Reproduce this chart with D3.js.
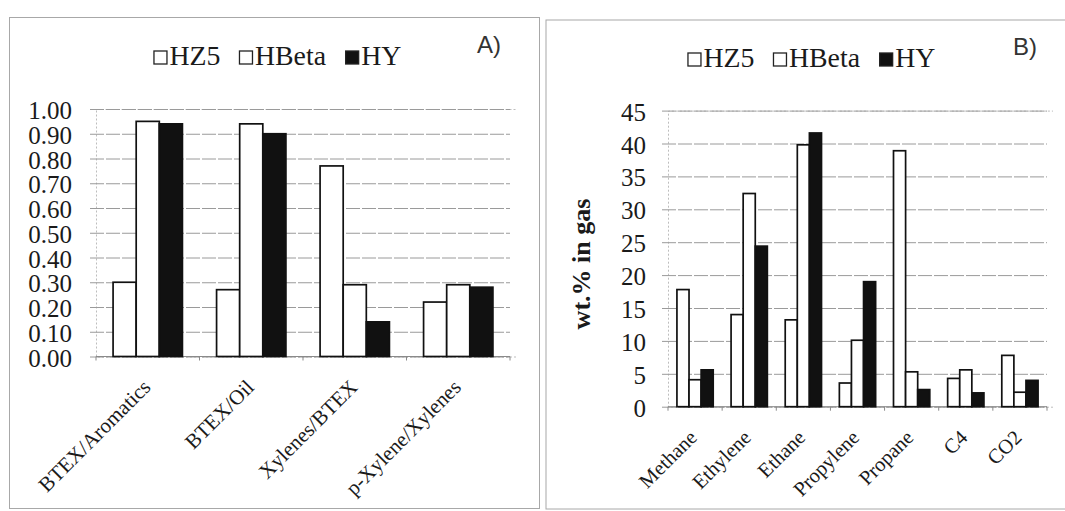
<!DOCTYPE html>
<html>
<head>
<meta charset="utf-8">
<script src="https://cdn.jsdelivr.net/npm/d3@7"></script>
<style>
  html, body { margin: 0; padding: 0; background: #fff; }
  svg { display: block; }
  svg text { font-family: "Liberation Serif", "Times New Roman", serif; }
  svg text.letter { font-family: "Liberation Sans", Arial, sans-serif; }
</style>
</head>
<body>
<svg id="chart" width="1065" height="511"></svg>
<script>
// Catalyst series shared by both panels
const seriesNames = ["HZ5", "HBeta", "HY"];
const seriesFill = ["#fff", "#fff", "#111"];

// Panel A: aromatic selectivity ratios
const ratioCategories = ["BTEX/Aromatics", "BTEX/Oil", "Xylenes/BTEX", "p-Xylene/Xylenes"];
const ratioHZ5   = [0.30, 0.27, 0.77, 0.22];
const ratioHBeta = [0.95, 0.94, 0.29, 0.29];
const ratioHY    = [0.94, 0.90, 0.14, 0.28];
const ratioTicks = [0, 0.1, 0.2, 0.3, 0.4, 0.5, 0.6, 0.7, 0.8, 0.9, 1.0];

// Panel B: gas composition, wt.%
const gasCategories = ["Methane", "Ethylene", "Ethane", "Propylene", "Propane", "C4", "CO2"];
const gasHZ5   = [17.8, 14.0, 13.2, 3.6, 38.9, 4.3, 7.8];
const gasHBeta = [4.1, 32.4, 39.8, 10.1, 5.3, 5.6, 2.2];
const gasHY    = [5.6, 24.4, 41.6, 19.0, 2.6, 2.1, 4.0];
const gasTicks = [0, 5, 10, 15, 20, 25, 30, 35, 40, 45];

const svg = d3.select("#chart");

// widen a text element horizontally by a factor while keeping its anchor
function stretch(sel, f) {
  sel.each(function () {
    const w = this.getComputedTextLength();
    d3.select(this).attr("textLength", w * f).attr("lengthAdjust", "spacingAndGlyphs");
  });
}

function drawPanel(cfg) {
  const g = svg.append("g");

  // frame
  g.append("rect")
    .attr("x", cfg.frame[0]).attr("y", cfg.frame[1])
    .attr("width", cfg.frame[2]).attr("height", cfg.frame[3])
    .attr("fill", "none").attr("stroke", "#a8a8a8").attr("stroke-width", 1);

  const x0 = d3.scaleBand().domain(cfg.categories)
    .range(cfg.xRange).paddingInner(cfg.pad).paddingOuter(cfg.pad / 2);
  const x1 = d3.scaleBand().domain(seriesNames).range([0, x0.bandwidth()]);
  const y = d3.scaleLinear().domain(cfg.yDomain).range(cfg.yRange);

  // gridlines and y tick labels
  const yAxis = d3.axisLeft(y).tickValues(cfg.ticks)
    .tickSize(-(cfg.xRange[1] - cfg.xRange[0]) - 6)
    .tickPadding(cfg.tickPad).tickFormat(cfg.fmt);
  const ya = g.append("g").attr("transform", `translate(${cfg.xRange[0]},0)`).call(yAxis);
  ya.attr("font-family", null);
  ya.select(".domain").attr("stroke", "#bdbdbd").attr("stroke-dasharray", "2,2");
  ya.selectAll(".tick line").attr("stroke", "#9a9a9a").attr("stroke-width", 1)
    .attr("stroke-dasharray", "14,2").attr("transform", "translate(-6,0)");
  ya.selectAll(".tick text")
    .style("font-size", cfg.tickFont + "px")
    .attr("fill", "#1a1a1a").attr("dy", "0.38em");

  // x axis baseline with category boundary ticks
  const yBase = y(0);
  g.append("line").attr("x1", cfg.xRange[0]).attr("x2", cfg.xRange[1])
    .attr("y1", yBase).attr("y2", yBase).attr("stroke", "#8a8a8a");
  const bounds = cfg.categories.map(c => x0(c) - x0.step() * cfg.pad / 2)
    .concat([cfg.xRange[1]]);
  g.selectAll(".bt").data(bounds).join("line")
    .attr("x1", d => d).attr("x2", d => d)
    .attr("y1", yBase).attr("y2", yBase + 4).attr("stroke", "#8a8a8a");

  // bars
  const groups = g.selectAll(".grp").data(cfg.categories).join("g")
    .attr("transform", c => `translate(${x0(c)},0)`);
  groups.selectAll("rect")
    .data((c, i) => seriesNames.map((s, k) => ({ s, k, v: cfg.values[k][i] })))
    .join("rect")
    .attr("x", d => x1(d.s)).attr("width", x1.bandwidth())
    .attr("y", d => y(d.v)).attr("height", d => yBase - y(d.v))
    .attr("fill", d => seriesFill[d.k])
    .attr("stroke", "#111").attr("stroke-width", 1.7);

  // rotated category labels
  g.selectAll(".cl").data(cfg.categories).join("text")
    .attr("transform", c => `translate(${x0(c) + x0.bandwidth() / 2 + cfg.labOff[0]},${yBase + cfg.labOff[1]}) rotate(-45)`)
    .attr("text-anchor", "end")
    .style("font-size", cfg.labFont + "px").attr("fill", "#1a1a1a")
    .text(c => c);

  // legend
  const leg = g.append("g");
  let cx = 0;
  seriesNames.forEach((s, k) => {
    const item = leg.append("g").attr("transform", `translate(${cx},0)`);
    item.append("rect").attr("x", 0.5).attr("y", -14).attr("width", 13).attr("height", 13)
      .attr("fill", seriesFill[k]).attr("stroke", "#222").attr("stroke-width", 1.3);
    const t = item.append("text").attr("x", 16).attr("y", 0)
      .style("font-size", "27px").attr("fill", "#1a1a1a").text(s);
    stretch(t, 1.03);
    cx += 16 + t.node().getComputedTextLength() * 1.03 + 17;
  });
  const legW = cx - 17;
  leg.attr("transform", `translate(${cfg.legend[0] - legW / 2},${cfg.legend[1]})`);

  // panel letter
  g.append("text").attr("class", "letter")
    .attr("x", cfg.letterPos[0]).attr("y", cfg.letterPos[1])
    .style("font-size", "24px").attr("fill", "#333").text(cfg.letter);

  return { g, y };
}

drawPanel({
  frame: [9.5, 17.5, 530, 491],
  categories: ratioCategories,
  values: [ratioHZ5, ratioHBeta, ratioHY],
  xRange: [96, 510], yRange: [356.5, 109], yDomain: [0, 1], pad: 0.33,
  ticks: ratioTicks, fmt: d3.format(".2f"), tickPad: 24, tickFont: 25,
  labOff: [4, 32], labFont: 21,
  legend: [278, 65], letter: "A)", letterPos: [477, 53]
});

const right = drawPanel({
  frame: [546, 20, 540, 489],
  categories: gasCategories,
  values: [gasHZ5, gasHBeta, gasHY],
  xRange: [668, 1047], yRange: [406.7, 110.6], yDomain: [0, 45], pad: 0.33,
  ticks: gasTicks, fmt: d3.format("d"), tickPad: 22, tickFont: 25,
  labOff: [3, 32], labFont: 20.5,
  legend: [812, 67], letter: "B)", letterPos: [1013, 55]
});

// y axis title of panel B
right.g.append("text")
  .attr("transform", `translate(590,264) rotate(-90)`)
  .attr("text-anchor", "middle")
  .style("font-weight", "bold").style("font-size", "26px")
  .attr("fill", "#1a1a1a")
  .text("wt.% in gas");
</script>
</body>
</html>
